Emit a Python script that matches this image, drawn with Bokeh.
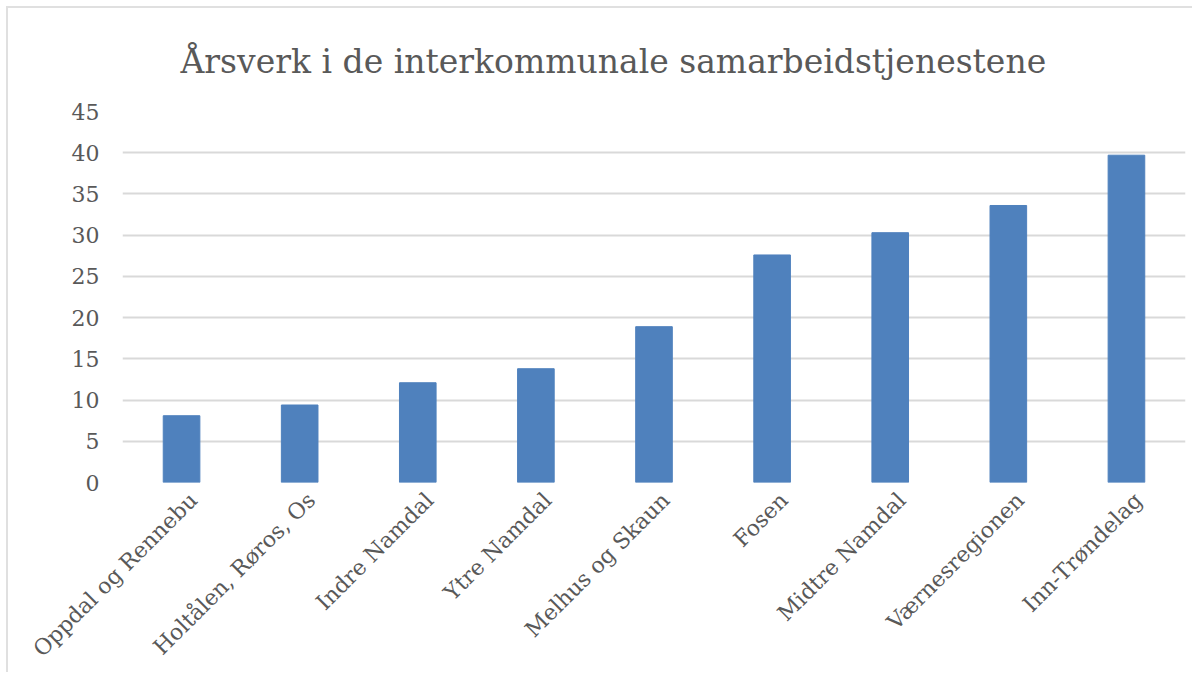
from math import pi
from bokeh.plotting import figure
from bokeh.models import Range1d, SingleIntervalTicker, LinearAxis, FixedTicker
from bokeh.embed import file_html
from bokeh.resources import INLINE

categories = ["Oppdal og Rennebu", "Holtålen, Røros, Os", "Indre Namdal", "Ytre Namdal",
              "Melhus og Skaun", "Fosen", "Midtre Namdal", "Værnesregionen", "Inn-Trøndelag"]
values = [8.1, 9.4, 12.1, 13.8, 18.9, 27.6, 30.3, 33.6, 39.7]
title_text = "Årsverk i de interkommunale samarbeidstjenestene"

FONT = "DejaVu Serif"
GRAY = "#595959"
LABEL_SHIFT = 0.1  # label anchor shift (in category widths) to mimic rotated-label placement

n = len(categories)
idx = list(range(n))

p = figure(width=1186, height=666, x_range=Range1d(-0.5, n - 0.5),
           y_range=Range1d(0, 45), output_backend="svg", toolbar_location=None,
           min_border_left=114, min_border_right=9, min_border_top=103, min_border_bottom=192,
           x_axis_location=None)
p.styles = {"margin-top": "6px", "margin-left": "6px",
            "border-top": "2px solid #e0e0e0", "border-left": "2px solid #e0e0e0"}

p.vbar(x=idx, top=values, width=0.31, fill_color="#4f81bd", line_color="#4f81bd")

# category label axis on a shifted helper range
p.extra_x_ranges = {"lab": Range1d(-0.5 - LABEL_SHIFT, n - 0.5 - LABEL_SHIFT)}
xax = LinearAxis(x_range_name="lab", ticker=FixedTicker(ticks=idx),
                 major_label_overrides={i: c for i, c in enumerate(categories)})
xax.axis_line_color = None
xax.major_tick_line_color = None
xax.minor_tick_line_color = None
xax.major_label_orientation = pi / 4
xax.major_label_text_font = FONT
xax.major_label_text_font_size = "22px"
xax.major_label_text_color = GRAY
xax.major_label_standoff = 8
p.add_layout(xax, "below")

p.title.text = title_text
p.title.text_font = FONT
p.title.text_font_size = "33px"
p.title.text_font_style = "normal"
p.title.text_color = GRAY
p.title.align = "left"
p.title.offset = 58
p.title.standoff = 62

p.outline_line_color = None
p.background_fill_color = "white"
p.border_fill_color = "white"

p.yaxis.ticker = SingleIntervalTicker(interval=5)
p.yaxis.axis_line_color = None
p.yaxis.major_tick_line_color = None
p.yaxis.minor_tick_line_color = None
p.yaxis.major_label_text_font = FONT
p.yaxis.major_label_text_font_size = "22px"
p.yaxis.major_label_text_color = GRAY
p.yaxis.major_label_standoff = 17

p.xgrid.grid_line_color = None
p.ygrid.grid_line_color = "#d9d9d9"
p.ygrid.grid_line_width = 2

open("out.html", "w").write(file_html(p, INLINE))
